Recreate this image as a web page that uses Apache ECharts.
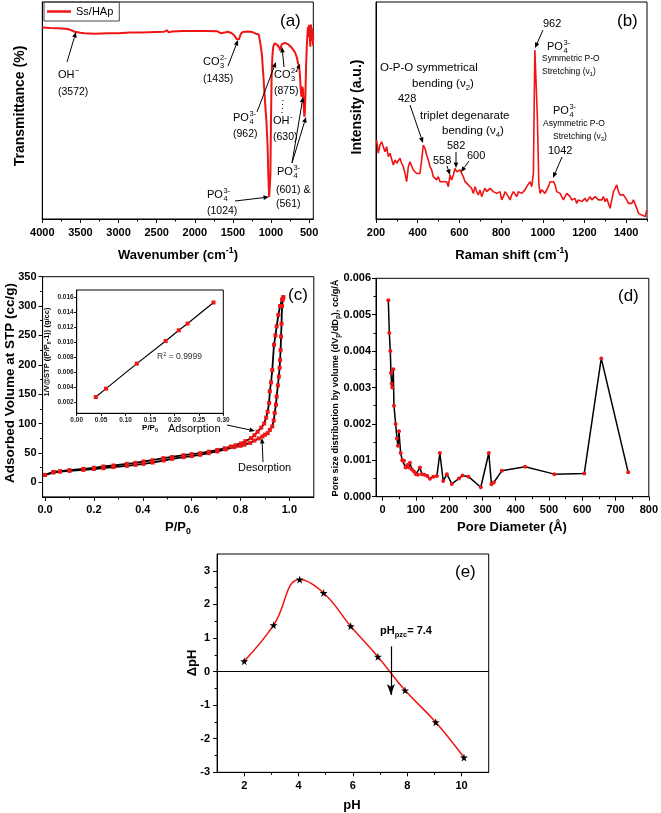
<!DOCTYPE html>
<html><head><meta charset="utf-8">
<script src="https://cdn.jsdelivr.net/npm/echarts@6/dist/echarts.min.js"></script>
<style>html,body{margin:0;padding:0;background:#fff}#c{width:661px;height:813px}</style>
</head><body><div id="c"></div>
<script>
// ---------------- DATA ----------------
// (a) FTIR
const aWn = [4000,3900,3800,3700,3650,3572,3500,3450,3300,3150,3000,2850,2700,2500,2400,2370,2340,2300,2150,2000,1850,1700,1660,1640,1610,1570,1520,1480,1450,1435,1420,1400,1380,1350,1300,1250,1200,1180,1160,1140,1120,1100,1080,1060,1045,1035,1024,1015,1008,1000,992,982,970,962,950,935,920,905,890,880,872,860,840,820,800,780,760,740,720,700,680,660,645,630,620,610,601,595,588,580,572,565,561,555,548,540,530,520,515,510,505,500,495,490,485,480,475,470,465,460,455,450,446];
const aT = [88.2,88.0,87.9,87.7,87.4,86.3,85.8,85.6,85.4,85.6,85.6,85.9,86.0,86.2,86.3,87.0,86.0,86.4,86.6,86.6,86.6,86.5,85.6,85.0,85.9,86.3,85.7,84.6,82.9,82.3,82.8,84.9,86.0,86.3,86.4,86.2,85.4,85.0,85.0,81.0,76.0,66.0,55.0,45.0,34.0,20.0,10.2,10.4,20.0,45.0,65.0,75.0,79.5,80.3,81.0,80.8,80.3,79.6,79.0,77.6,78.8,80.5,81.0,81.2,81.0,80.6,80.2,79.4,78.6,77.6,76.4,74.3,71.8,70.2,66.0,60.0,56.4,59.0,61.0,59.5,53.0,48.5,47.1,50.0,58.0,70.0,80.0,86.0,88.6,85.0,84.0,89.5,90.2,84.0,79.4,86.0,89.6,84.0,88.0,82.0,87.0,80.0,84.0];
const aTicks = [4000,3500,3000,2500,2000,1500,1000,500];
const aMinor = [3750,3250,2750,2250,1750,1250,750];
// (b) Raman
const bShift = [203,211,219,227,235,243,251,259,267,275,283,291,299,307,315,323,331,339,347,355,363,371,379,387,395,403,411,419,427,435,443,451,459,467,475,483,491,499,507,515,523,531,539,547,555,563,571,579,587,595,603,611,619,627,635,643,651,659,667,675,683,691,699,707,715,723,731,739,747,755,763,771,779,787,795,803,811,819,827,835,843,851,859,867,875,883,891,899,907,915,923,931,939,947,955,962,968,974,981,987,995,1003,1011,1019,1027,1035,1043,1051,1059,1067,1075,1083,1091,1099,1107,1115,1123,1131,1139,1147,1155,1163,1171,1179,1187,1195,1203,1211,1219,1227,1235,1243,1251,1259,1267,1275,1283,1291,1299,1307,1315,1323,1331,1339,1347,1355,1363,1371,1379,1387,1395,1403,1411,1419,1427,1435,1443,1451,1459,1467,1475,1483,1491,1499];
const bInt = [36.4,30.3,34.1,35.6,33.3,31.0,33.3,28.7,30.3,29.5,24.9,27.2,25.7,26.4,28.0,25.7,24.1,21.0,17.2,24.1,26.4,25.7,22.6,21.8,21.0,21.8,21.0,27.2,34.1,32.6,29.5,27.2,24.1,22.6,19.5,20.3,18.0,19.5,17.2,18.0,17.2,16.4,17.2,14.9,20.3,18.0,20.3,23.3,21.8,21.0,22.6,21.0,19.5,17.2,18.0,15.7,16.4,14.1,11.8,14.9,12.6,11.1,13.4,10.3,12.6,14.1,12.6,13.4,14.1,13.4,12.6,13.4,11.8,11.1,12.6,8.8,10.3,12.6,11.8,10.3,8.8,11.1,12.6,11.8,10.3,12.6,12.6,11.8,12.6,13.4,14.9,14.1,17.2,14.9,21.0,77.9,77.1,47.2,16.4,11.8,13.4,14.1,11.8,13.4,14.9,17.2,18.0,17.2,15.7,12.6,13.4,11.8,10.3,8.8,9.5,11.8,11.1,10.3,8.8,8.0,9.5,7.2,8.8,9.5,8.0,8.8,9.5,8.0,7.2,10.3,8.8,8.0,10.3,11.1,8.8,9.5,8.8,10.3,8.0,9.5,8.8,4.9,8.8,12.6,14.1,15.7,12.6,11.1,11.8,11.1,10.3,8.8,7.2,6.5,7.2,8.8,8.0,4.9,2.6,3.4,1.8,2.6,1.1,4.1];
const bTicks = [200,400,600,800,1000,1200,1400];
const bMinor = [300,500,700,900,1100,1300,1500];
// (c) N2 isotherm
const cAdsP = [0.000,0.034,0.061,0.10,0.157,0.20,0.239,0.28,0.335,0.37,0.403,0.44,0.485,0.52,0.567,0.60,0.635,0.67,0.705,0.735,0.76,0.78,0.802,0.82,0.843,0.857,0.870,0.885,0.897,0.905,0.911,0.917,0.920,0.925,0.930,0.937,0.943,0.948,0.955,0.962,0.970,0.975];
const cAdsV = [12.4,17.5,18.7,20.5,22.8,24.6,26.8,28.5,31.3,33.0,35.3,37.5,41.0,43.0,46.0,47.8,49.4,52.0,55.0,57.8,60.8,63.0,66.0,70.0,75.0,80.0,86.0,93.0,100.0,110.0,120.0,135.0,155.0,170.0,191.0,234.0,250.0,265.6,285.0,300.0,311.0,315.0];
const cDesP = [0.000,0.034,0.061,0.10,0.157,0.20,0.239,0.28,0.335,0.37,0.403,0.44,0.485,0.52,0.567,0.60,0.635,0.67,0.705,0.74,0.775,0.80,0.816,0.84,0.857,0.875,0.890,0.900,0.911,0.920,0.930,0.936,0.940,0.945,0.948,0.953,0.957,0.960,0.962,0.964,0.966,0.968,0.970,0.973,0.975];
const cDesV = [12.4,16.5,18.0,19.3,21.0,22.5,23.9,25.8,27.9,29.6,31.3,33.5,37.0,39.8,42.7,44.5,46.7,49.5,52.4,56.0,59.8,62.0,63.8,67.0,71.0,74.5,78.0,81.0,83.5,89.0,95.0,105.0,118.0,132.0,146.0,165.0,180.0,195.0,208.0,225.0,248.0,270.0,300.0,311.0,315.0];
const cTicksX = [0,0.2,0.4,0.6,0.8,1.0];
const cMinorX = [0.1,0.3,0.5,0.7,0.9];
const cTicksY = [0,50,100,150,200,250,300,350];
const cMinorY = [25,75,125,175,225,275,325];
// (c) inset BET
const insP = [0.039,0.06,0.123,0.182,0.209,0.227,0.28];
const insY = [0.00267,0.0038,0.00715,0.01018,0.01161,0.01251,0.01533];
const insTicksX = [0,0.05,0.10,0.15,0.20,0.25,0.30];
const insTicksY = [0.002,0.004,0.006,0.008,0.010,0.012,0.014,0.016];
// (d) pore size distribution
const dD = [17,20,23,25,27,29,32,34,39,43,46,49,54,59,64,69,74,79,82,88,94,100,106,112,118,126,134,142,152,163,172,182,193,208,229,240,258,295,319,327,334,358,428,516,606,657,738];
const dV = [0.0054,0.0045,0.0040,0.0034,0.0031,0.0030,0.0035,0.0025,0.0020,0.0016,0.0014,0.0018,0.0012,0.0010,0.00099,0.0008,0.00087,0.0008,0.00093,0.00075,0.00069,0.00062,0.0006,0.0008,0.00062,0.0006,0.00057,0.00049,0.00055,0.00057,0.0012,0.00043,0.00062,0.00035,0.0005,0.00058,0.00055,0.00026,0.0012,0.00034,0.00039,0.00071,0.00082,0.00062,0.00064,0.0038,0.00067];
const dTicksX = [0,100,200,300,400,500,600,700,800];
const dMinorX = [50,150,250,350,450,550,650,750];
const dTicksY = [0,0.001,0.002,0.003,0.004,0.005,0.006];
const dMinorY = [0.0005,0.0015,0.0025,0.0035,0.0045,0.0055];
// (e) pH drift
const ePH = [2.0,3.08,4.04,4.92,5.92,6.92,7.92,9.05,10.09];
const eDpH = [0.31,1.38,2.74,2.34,1.35,0.44,-0.56,-1.51,-2.56];
const ePzc = 7.4;
const eTicksX = [2,4,6,8,10];
const eMinorX = [3,5,7,9];
const eTicksY = [-3,-2,-1,0,1,2,3];
const eMinorY = [-2.5,-1.5,-0.5,0.5,1.5,2.5];

// ---------------- BUILD ----------------
const FONT = '"Liberation Sans", Arial, Helvetica, sans-serif';
const RED = '#f01414';
const grids = [], xAxes = [], yAxes = [], series = [], G = [];
const zip = (a, b) => a.map((v, i) => [v, b[i]]);

function grid(l, t, w, h) {
  grids.push({left: l, top: t, width: w, height: h, show: true, borderColor: '#000', borderWidth: 1, containLabel: false});
  return grids.length - 1;
}
function axis(list, dim, gi, o) {
  const base = {type: 'value', gridIndex: gi, position: dim === 'x' ? 'bottom' : 'left', min: o.min, max: o.max,
    inverse: !!o.inverse, splitLine: {show: false}, splitArea: {show: false}};
  list.push(Object.assign({}, base, {
    axisLine: {show: true, onZero: false, lineStyle: {color: '#000', width: 1}},
    axisTick: {show: !!o.majors, length: o.tl || 4, inside: false, customValues: o.majors || [], lineStyle: {color: '#000', width: 1}},
    axisLabel: {show: !!o.majors && o.labels !== false, customValues: o.majors || [], formatter: o.fmt || (v => String(v)),
      color: o.lc || '#000', fontFamily: FONT, fontWeight: 'bold', fontSize: o.fs || 11, margin: o.margin || 7}
  }));
  const idx = list.length - 1;
  if (o.minors) {
    list.push(Object.assign({}, base, {
      axisLine: {show: false, onZero: false},
      axisTick: {show: true, length: o.mtl || 2.5, inside: false, customValues: o.minors, lineStyle: {color: '#000', width: 1}},
      axisLabel: {show: false}
    }));
  }
  return idx;
}

const mctx = document.createElement('canvas').getContext('2d');
function tw(t, size, w) { mctx.font = (w || 'normal') + ' ' + size + 'px ' + FONT; return mctx.measureText(t).width; }
function richDef(size, w, c) {
  const s = Math.round(size * 0.68 * 10) / 10;
  const mk = va => ({fontSize: s, lineHeight: s, verticalAlign: va, fontFamily: FONT, fontWeight: w, fill: c, color: c});
  return {sub: mk('bottom'), sup: mk('top')};
}
function txt(x, y, t, size, o) {
  o = o || {};
  const w = o.w || 'normal', c = o.c || '#000';
  const st = {text: t, fontSize: size, fontFamily: FONT, fontWeight: w, fill: c,
    align: o.a || 'left', textAlign: o.a || 'left', verticalAlign: o.v || 'middle', textVerticalAlign: o.v || 'middle',
    lineHeight: Math.round(size * 1.35)};
  if (t.indexOf('{') >= 0) st.rich = richDef(size, w, c);
  G.push({type: 'text', x: x, y: y, rotation: o.rot || 0, silent: true, z: 100, style: st});
}
function chem(x, y, base, sub, sup, size) {
  txt(x, y, base, size);
  const w = tw(base, size) + 0.5, s = size * 0.68;
  if (sup) txt(x + w, y - size * 0.36, sup, s);
  if (sub) txt(x + w, y + size * 0.38, sub, s);
}
function arrow(x1, y1, x2, y2, o) {
  o = o || {};
  const L = o.hl || 5.5, W = o.hw || 2.3;
  const dx = x2 - x1, dy = y2 - y1, d = Math.hypot(dx, dy), ux = dx / d, uy = dy / d;
  const bx = x2 - ux * L, by = y2 - uy * L;
  G.push({type: 'line', silent: true, z: 100, shape: {x1: x1, y1: y1, x2: bx, y2: by}, style: {stroke: '#000', lineWidth: o.lw || 1, lineDash: o.dash || null}});
  G.push({type: 'polygon', silent: true, z: 100, shape: {points: [[x2, y2], [bx - uy * W, by + ux * W], [bx + uy * W, by - ux * W]]}, style: {fill: '#000'}});
}
function seg(x1, y1, x2, y2, o) {
  o = o || {};
  G.push({type: 'line', silent: true, z: 100, shape: {x1: x1, y1: y1, x2: x2, y2: y2}, style: {stroke: '#000', lineWidth: o.lw || 1, lineDash: o.dash || null}});
}
const VERT = Math.PI / 2;

// ----- panel (a)
const ga = grid(42.3, 2, 271, 217);
const axA = axis(xAxes, 'x', ga, {min: 445, max: 4000, inverse: true, majors: aTicks, minors: aMinor, margin: 8});
const ayA = axis(yAxes, 'y', ga, {min: 0, max: 100});
series.push({type: 'line', name: 'Ss/HAp', xAxisIndex: axA, yAxisIndex: ayA, data: zip(aWn, aT), symbol: 'none',
  lineStyle: {color: RED, width: 2}, itemStyle: {color: RED}});

// ----- panel (b)
const gb = grid(376, 2, 271, 217);
const axB = axis(xAxes, 'x', gb, {min: 200, max: 1500, majors: bTicks, minors: bMinor, margin: 8});
const ayB = axis(yAxes, 'y', gb, {min: 0, max: 100});
series.push({type: 'line', name: 'raman', xAxisIndex: axB, yAxisIndex: ayB, data: zip(bShift, bInt), symbol: 'none',
  lineStyle: {color: RED, width: 1.6}});

// ----- panel (c)
const gc = grid(42.6, 276.7, 271.2, 220.2);
const axC = axis(xAxes, 'x', gc, {min: -0.01, max: 1.1, majors: cTicksX, minors: cMinorX, fmt: v => v.toFixed(1), margin: 8});
const ayC = axis(yAxes, 'y', gc, {min: -25, max: 350, majors: cTicksY, minors: cMinorY, margin: 6});
[[cAdsP, cAdsV, 'Adsorption'], [cDesP, cDesV, 'Desorption']].forEach(function (s) {
  series.push({type: 'line', name: s[2], xAxisIndex: axC, yAxisIndex: ayC, data: zip(s[0], s[1]),
    symbol: 'rect', symbolSize: 4, showSymbol: true, showAllSymbol: true,
    itemStyle: {color: RED}, lineStyle: {color: '#000', width: 1.8}, z: 3});
});
// inset
const gi = grid(76.7, 290, 146.6, 123.3);
const axI = axis(xAxes, 'x', gi, {min: 0, max: 0.30, majors: insTicksX, fmt: v => v.toFixed(2), fs: 6.5, tl: 2.5, margin: 3, lc: '#222'});
const ayI = axis(yAxes, 'y', gi, {min: 0.0005, max: 0.017, majors: insTicksY, fmt: v => v.toFixed(3), fs: 6.5, tl: 2.5, margin: 3, lc: '#222'});
series.push({type: 'line', name: 'BET', xAxisIndex: axI, yAxisIndex: ayI, data: zip(insP, insY),
  symbol: 'rect', symbolSize: 4, showAllSymbol: true, itemStyle: {color: RED}, lineStyle: {color: '#000', width: 1.2}});

// ----- panel (d)
const gd = grid(376, 278.3, 274.7, 218.4);
const axD = axis(xAxes, 'x', gd, {min: -20, max: 800, majors: dTicksX, minors: dMinorX, margin: 8});
const ayD = axis(yAxes, 'y', gd, {min: 0, max: 0.006, majors: dTicksY, minors: dMinorY, fmt: v => v.toFixed(3), margin: 5});
series.push({type: 'line', name: 'psd', xAxisIndex: axD, yAxisIndex: ayD, data: zip(dD, dV),
  symbol: 'circle', symbolSize: 4, showAllSymbol: true, itemStyle: {color: RED}, lineStyle: {color: '#000', width: 1.5}});

// ----- panel (e)
const ge = grid(217.1, 554, 271.6, 218.3);
const axE = axis(xAxes, 'x', ge, {min: 1, max: 11, majors: eTicksX, minors: eMinorX, margin: 8});
const ayE = axis(yAxes, 'y', ge, {min: -3, max: 3.5, majors: eTicksY, minors: eMinorY, margin: 7});
const STAR = 'path://M50,0 L61,35 L98,35 L68,57 L79,91 L50,70 L21,91 L32,57 L2,35 L39,35 Z';
series.push({type: 'line', name: 'pzc', xAxisIndex: axE, yAxisIndex: ayE, data: zip(ePH, eDpH), smooth: 0.45,
  symbol: STAR, symbolSize: 8, showAllSymbol: true, itemStyle: {color: '#000'}, lineStyle: {color: RED, width: 1.5},
  markLine: {silent: true, symbol: 'none', animation: false, label: {show: false}, lineStyle: {color: '#000', width: 1.2, type: 'solid'},
    data: [
      [{coord: [1, 0]}, {coord: [11, 0]}],
      [{coord: [ePzc, 0.75]}, {coord: [ePzc, -0.7], symbol: 'arrow', symbolSize: [6, 11]}]
    ]}});

// ---------------- ANNOTATIONS ----------------
// panel labels
txt(280, 21, '(a)', 17); txt(617, 21, '(b)', 17); txt(288, 295, '(c)', 17); txt(618, 296, '(d)', 17); txt(455, 572, '(e)', 17);
// axis titles
const B = {w: 'bold', a: 'center'};
txt(178, 255, 'Wavenumber (cm{sup|-1})', 13, B);
txt(20, 106, 'Transmittance (%)', 14, {w: 'bold', a: 'center', rot: VERT});
txt(512, 255, 'Raman shift (cm{sup|-1})', 13, B);
txt(357, 107, 'Intensity (a.u.)', 14, {w: 'bold', a: 'center', rot: VERT});
txt(178, 527, 'P/P{sub|0}', 13, B);
txt(10, 383, 'Adsorbed Volume at STP (cc/g)', 13.5, {w: 'bold', a: 'center', rot: VERT});
txt(512, 527, 'Pore Diameter (Å)', 13, B);
txt(335, 388, 'Pore size distribution by volume (dV{sub|p}/dD{sub|p}), cc/g/Å', 9.2, {w: 'bold', a: 'center', rot: VERT});
txt(352, 805, 'pH', 13, B);
txt(192, 663, 'ΔpH', 13, {w: 'bold', a: 'center', rot: VERT});
// (a)
chem(58, 75, 'OH', '', '−', 11); txt(58, 92, '(3572)', 10.5); arrow(67, 62, 76, 32);
chem(203, 62, 'CO', '3', '2-', 11); txt(203, 79, '(1435)', 10.5); arrow(228, 66, 238, 40);
chem(233, 118, 'PO', '4', '3-', 11); txt(233, 134, '(962)', 10.5); arrow(257, 112, 276, 62);
chem(274, 75, 'CO', '3', '2-', 11); txt(274, 91, '(875)', 10.5); arrow(284, 67, 282, 47);
seg(282, 113, 283, 99, {dash: [1, 3]}); arrow(296, 72, 300, 64, {hl: 4.5, hw: 2});
chem(273, 121, 'OH', '', '-', 11); txt(273, 137, '(630)', 10.5);
chem(277, 172, 'PO', '4', '3-', 11); txt(276, 190, '(601) &', 10.5); txt(276, 204, '(561)', 10.5);
arrow(292, 163, 303, 97); arrow(292, 163, 306, 117);
chem(207, 195, 'PO', '4', '3-', 11); txt(207, 211, '(1024)', 10.5); arrow(235, 201, 269, 197);
// (b)
txt(543, 24, '962', 11); arrow(543, 30, 535, 48);
chem(547, 47, 'PO', '4', '3-', 11); txt(542, 59, 'Symmetric P-O', 8.5); txt(542, 72, 'Stretching (ν{sub|1})', 8.5);
txt(380, 68, 'O-P-O symmetrical', 11.5); txt(412, 84, 'bending (ν{sub|2})', 11.5);
txt(398, 99, '428', 11); arrow(410, 105, 423, 143);
txt(420, 116, 'triplet degenarate', 11.5); txt(442, 131, 'bending (ν{sub|4})', 11.5);
txt(447, 146, '582', 11); arrow(456, 152, 456, 168);
txt(433, 161, '558', 11); arrow(447, 166, 450, 175);
txt(467, 156, '600', 11); arrow(469, 161, 461, 172);
chem(553, 111, 'PO', '4', '3-', 11); txt(543, 124, 'Asymmetric P-O', 8.5); txt(553, 137, 'Stretching (ν{sub|3})', 8.5);
txt(548, 151, '1042', 11); arrow(562, 157, 553, 178);
// (c)
txt(168, 429, 'Adsorption', 11); arrow(227, 425, 255, 431);
txt(238, 468, 'Desorption', 11); arrow(263, 462, 262, 438);
txt(157, 357, 'R{sup|2} = 0.9999', 8.5, {c: '#333'});
txt(47, 352, '1/V@STP ((P/P{sub|0}-1)) (g/cc)', 7.5, {w: 'bold', a: 'center', rot: VERT});
txt(150, 428, 'P/P{sub|0}', 8, B);
// (e)
txt(380, 631, 'pH{sub|pzc}= 7.4', 11, {w: 'bold'});

const chart = echarts.init(document.getElementById('c'), null, {renderer: 'canvas'});
chart.setOption({
  animation: false,
  backgroundColor: '#fff',
  legend: {show: true, data: [{name: 'Ss/HAp', icon: 'rect'}], left: 44, top: 2, selectedMode: false, itemWidth: 24, itemHeight: 2.5,
    padding: [4, 6, 4, 3], borderColor: '#444', borderWidth: 1, textStyle: {fontFamily: FONT, fontSize: 11, color: '#000'}},
  grid: grids, xAxis: xAxes, yAxis: yAxes, series: series,
  graphic: {elements: G}
});
</script></body></html>
